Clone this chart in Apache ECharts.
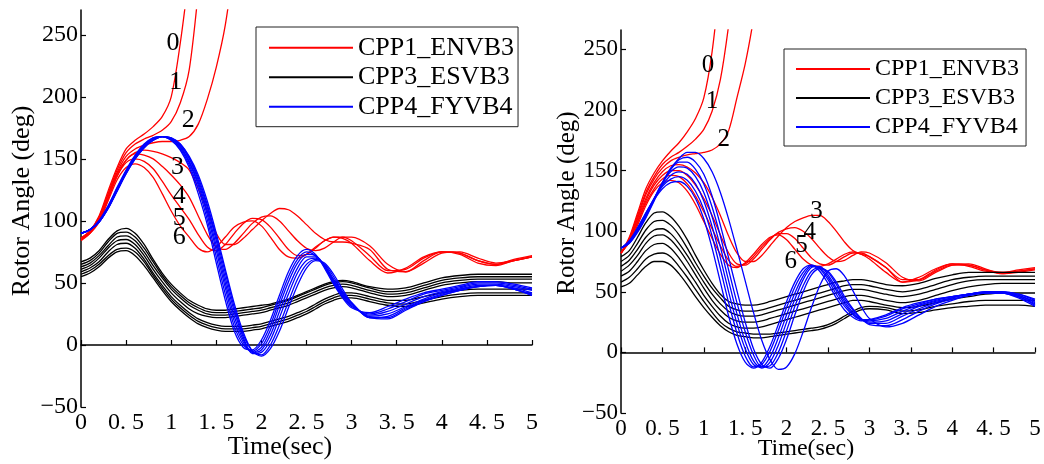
<!DOCTYPE html>
<html><head><meta charset="utf-8">
<script src="https://cdn.jsdelivr.net/npm/echarts@6/dist/echarts.min.js"></script>
<style>html,body{margin:0;padding:0;background:#fff}#c{width:1044px;height:464px}</style>
</head><body><div id="c"></div>
<script>
// time grid (s)
const T = [0,0.1,0.2,0.3,0.4,0.5,0.6,0.7,0.8,0.9,1.0,1.1,1.2,1.3,1.4,1.5,1.6,1.7,1.8,1.9,2.0,2.1,2.2,2.3,2.4,2.5,2.6,2.7,2.8,2.9,3.0,3.2,3.4,3.6,3.8,4.0,4.2,4.4,4.6,4.8,5.0];
const xTicks = [0,0.5,1,1.5,2,2.5,3,3.5,4,4.5,5];
const yTicks = [-50,0,50,100,150,200,250];
const names = ['CPP1_ENVB3','CPP3_ESVB3','CPP4_FYVB4'];

// LEFT panel — CPP1_ENVB3 (red), cases 0..6
const L_red0 = [86,92,104,124,143,158,165,170,176,184,200,243,300];
const L_red1 = [86,92,103,122,141,155,162,166,169,173,180,195,222,285];
const L_red2 = [86,92,103,121,139,152,158,161,163,164,164,165,168,178,198,224,258,310];
const L_red3 = [86,91,101,118,136,149,155,157,156,154,151,147,141,126,108,90,81,81,86,93,100,106,110,109,104,97,90,85,83,83,82,77,61,59,68,75,74,68,65,69,72];
const L_red4 = [85,91,101,119,138,149,154,153,150,144,137,129,119,104,89,79,77,82,90,98,103,104,100,92,84,78,76,78,83,87,87,80,65,59,66,74,75,70,66,68,71];
const L_red5 = [85,90,100,118,136,147,150,148,142,132,121,111,101,89,79,76,81,90,98,102,101,95,86,77,72,73,78,84,87,87,84,72,60,61,70,75,74,68,65,68,71];
const L_red6 = [84,90,99,116,133,143,146,143,135,122,108,96,87,78,75,79,87,95,99,100,96,87,77,71,70,73,79,84,87,86,82,68,58,62,71,75,73,66,64,68,71];
// LEFT — CPP3_ESVB3 (black)
const L_blk1 = [67,70,76,85,92,94,90,81,69,58,49,42,36,32,29,28,28,29,30,31,32,33,35,37,40,43,46,49,51,52,51,47,45,46,50,54,56,57,57,57,57];
const L_blk2 = [65,68,74,83,90,91,87,78,67,56,47,40,34,30,27,26,26,27,28,29,30,32,34,36,39,42,45,48,50,51,50,46,43,44,48,52,54,55,55,55,55];
const L_blk3 = [63,66,72,80,87,88,84,75,64,54,45,38,32,28,25,24,24,25,26,27,28,30,32,34,37,40,43,46,48,49,48,44,41,42,46,50,52,53,53,53,53];
const L_blk4 = [61,64,70,78,84,85,81,72,61,51,42,35,29,25,23,22,22,23,24,25,26,28,30,32,35,38,41,44,46,47,46,42,39,40,44,48,50,51,51,50,50];
const L_blk5 = [59,62,67,75,81,82,78,69,58,48,39,32,26,21,18,16,15,15,15,16,17,19,21,23,26,29,33,37,40,42,42,39,36,36,39,42,44,45,45,45,45];
const L_blk6 = [57,60,65,72,77,78,75,67,56,46,37,30,24,19,16,14,13,13,13,14,15,17,19,21,24,27,31,35,38,40,40,37,34,33,36,39,41,42,42,42,42];
const L_blk7 = [55,58,63,70,75,76,72,64,54,44,35,28,22,17,14,12,11,11,11,12,13,15,17,19,22,25,29,33,36,38,38,35,32,31,34,37,39,40,40,40,40];
// LEFT — CPP4_FYVB4 (blue)
const L_blu1 = [90,93,100,112,127,141,153,162,167,168,165,157,143,122,97,66,36,11,-2,-4,4,20,40,59,72,77,73,62,49,38,30,26,31,37,42,45,48,51,51,49,46];
const L_blu2 = [90,93,100,112,126,140,152,161,167,168,165,158,145,126,101,71,41,15,0,-5,1,16,36,55,69,75,72,63,50,39,31,25,29,35,41,44,47,50,50,48,45];
const L_blu3 = [90,93,100,111,126,140,152,161,166,168,166,159,147,129,105,76,46,19,2,-6,-2,12,32,51,66,73,72,64,51,40,32,24,27,33,39,43,46,49,49,47,44];
const L_blu4 = [90,93,99,111,125,139,151,160,166,168,166,160,148,131,108,80,50,23,4,-6,-4,8,27,46,62,71,71,64,52,41,33,23,25,31,37,42,45,48,48,46,42];
const L_blu5 = [90,93,99,110,125,139,151,160,165,168,166,161,150,133,111,84,54,27,6,-7,-6,4,22,41,58,68,70,64,53,42,34,22,23,30,36,41,45,47,48,45,41];
const L_blu6 = [90,93,99,110,124,138,150,159,165,168,167,162,151,135,113,87,58,30,8,-5,-8,0,16,35,53,65,69,65,55,43,34,22,22,29,35,40,44,47,48,45,40];
const L_blu7 = [90,93,99,110,124,138,150,159,165,168,167,162,152,137,116,90,61,33,10,-5,-9,-3,11,30,48,62,68,66,57,45,34,22,21,28,35,40,44,47,48,45,40];
// LEFT case labels
const L_lab = ['0','1','2','3','4','5','6'];
const L_labT = [1.02,1.05,1.19,1.07,1.09,1.09,1.09];
const L_labV = [243,212,181,143,120,102,87];

// RIGHT panel — red
const R_red0 = [82,95,115,135,148,158,166,173,182,193,210,248,310];
const R_red1 = [82,94,113,132,145,155,161,165,170,176,184,199,225,270,330];
const R_red2 = [82,93,111,130,143,152,158,161,163,164,165,167,172,183,210,238,275,320];
const R_red3 = [82,93,110,127,140,149,154,155,153,148,140,128,113,96,82,75,75,80,88,96,103,108,111,113,113,108,100,91,84,81,79,70,58,60,68,73,72,68,65,67,69];
const R_red4 = [82,92,108,125,138,146,150,150,146,138,127,113,97,82,73,72,77,85,93,99,102,103,100,94,86,79,75,76,80,83,82,74,62,59,66,72,73,69,65,66,68];
const R_red5 = [82,92,107,123,135,143,146,145,139,129,116,102,88,76,71,73,79,87,94,98,98,94,86,78,73,72,75,79,82,82,79,70,60,60,67,72,72,68,66,67,69];
const R_red6 = [82,91,105,121,133,140,142,140,133,122,108,94,81,72,70,74,81,89,95,97,93,85,77,72,71,73,77,81,83,81,77,66,58,62,69,73,71,67,66,68,70];
// RIGHT — black
const R_blk1 = [79,84,95,107,115,116,112,104,93,80,68,57,48,42,40,39,39,40,42,44,46,48,50,52,54,56,58,59,60,60,59,56,55,57,61,64,66,66,66,66,66];
const R_blk2 = [75,80,90,101,108,109,105,97,86,74,63,53,45,38,35,34,34,35,37,39,41,43,45,47,49,51,53,55,56,56,55,52,50,52,56,60,62,63,63,63,63];
const R_blk3 = [71,76,85,95,101,102,98,90,80,69,58,48,40,34,31,30,30,31,33,35,37,39,41,43,45,47,49,51,52,52,51,48,46,48,52,56,59,60,60,60,60];
const R_blk4 = [67,72,80,90,96,97,93,85,75,64,53,43,35,29,26,25,25,26,28,30,32,34,36,38,40,42,44,46,47,47,46,43,41,43,47,51,54,56,57,57,57];
const R_blk5 = [63,67,75,84,89,90,86,78,68,58,47,38,30,24,21,20,20,21,23,25,27,29,31,33,35,37,39,41,43,43,42,39,37,38,41,44,46,48,49,49,49];
const R_blk6 = [58,62,69,77,81,82,79,71,62,52,42,33,25,20,17,16,15,15,15,16,17,18,19,20,21,23,26,30,34,37,38,37,34,35,38,40,42,43,43,43,43];
const R_blk7 = [54,57,64,71,75,75,72,65,56,46,37,29,22,17,14,13,12,12,13,14,15,16,17,18,19,21,24,28,32,35,36,35,32,33,35,37,38,39,39,39,38];
// RIGHT — blue
const R_blu1 = [86,92,103,115,126,135,140,141,137,127,110,86,58,30,7,-8,-13,-8,5,23,42,58,69,72,67,57,45,35,29,26,27,31,37,41,44,46,48,50,50,48,44];
const R_blu2 = [86,92,102,115,127,137,143,145,142,133,118,96,69,41,16,-3,-12,-10,1,18,37,54,66,72,69,60,48,38,31,27,27,30,36,40,44,46,48,50,50,48,43];
const R_blu3 = [86,91,101,114,127,138,146,149,147,139,125,104,78,50,24,3,-10,-12,-4,12,31,49,63,71,70,62,51,40,32,27,26,28,34,39,43,46,48,50,50,47,42];
const R_blu4 = [86,91,101,113,127,140,149,153,152,145,132,112,87,59,32,9,-7,-13,-8,6,25,44,60,70,71,64,53,42,33,27,25,26,32,38,42,45,48,50,50,47,41];
const R_blu5 = [86,91,100,112,126,140,151,157,157,151,139,120,96,68,41,17,-2,-12,-11,0,18,38,55,67,70,66,56,44,35,28,24,24,30,36,41,45,48,49,49,46,40];
const R_blu6 = [86,90,100,112,126,140,152,159,161,157,147,129,105,78,51,25,3,-10,-13,-5,11,31,50,64,69,67,58,46,36,28,23,22,27,34,40,44,47,49,49,46,39];
const R_blu7 = [86,90,99,111,125,139,151,160,165,165,160,149,132,110,85,59,33,10,-6,-14,-12,-1,17,37,55,67,69,63,51,38,28,21,24,31,38,43,47,49,49,45,38];
// RIGHT case labels
const R_lab = ['0','1','2','3','4','5','6'];
const R_labT = [1.05,1.1,1.24,2.36,2.28,2.18,2.05];
const R_labV = [237,207,176,116,99,88,75];

const FONT = '"Liberation Serif", "Times New Roman", serif';
const COLORS = ['#ff0000','#000000','#0000ff'];

function pts(vals){ return vals.map((v,i)=>[T[i], v]); }

const groups = [
  [[L_red0,L_red1,L_red2,L_red3,L_red4,L_red5,L_red6],[L_blk1,L_blk2,L_blk3,L_blk4,L_blk5,L_blk6,L_blk7],[L_blu1,L_blu2,L_blu3,L_blu4,L_blu5,L_blu6,L_blu7]],
  [[R_red0,R_red1,R_red2,R_red3,R_red4,R_red5,R_red6],[R_blk1,R_blk2,R_blk3,R_blk4,R_blk5,R_blk6,R_blk7],[R_blu1,R_blu2,R_blu3,R_blu4,R_blu5,R_blu6,R_blu7]]
];

const series = [];
groups.forEach((panel, p) => {
  panel.forEach((fam, f) => {
    fam.forEach(vals => {
      series.push({
        type:'line', name:names[f], xAxisIndex:p, yAxisIndex:p,
        data:pts(vals), symbol:'none', showSymbol:false, smooth:0.3,
        lineStyle:{color:COLORS[f], width:1.3}, itemStyle:{color:COLORS[f]},
        silent:true, z:2+f
      });
    });
  });
});
[[L_lab,L_labT,L_labV,26],[R_lab,R_labT,R_labV,25]].forEach((a,p)=>{
  series.push({
    type:'scatter', name:'labels'+p, xAxisIndex:p, yAxisIndex:p, silent:true, z:10,
    symbolSize:1, itemStyle:{color:'rgba(0,0,0,0)', opacity:1},
    data:a[0].map((s,i)=>({name:s, value:[a[1][i], a[2][i]]})),
    label:{show:true, position:'inside', formatter:'{b}', color:'#000', opacity:1, fontFamily:FONT, fontSize:a[3]}
  });
});

function xAx(i, fs){
  return {type:'value', gridIndex:i, min:0, max:5, interval:0.5,
    axisLine:{lineStyle:{color:'#000', width:1.5}},
    axisTick:{inside:true, length:5, lineStyle:{color:'#000', width:1.2}},
    axisLabel:{color:'#000', fontFamily:FONT, fontSize:fs, margin:4,
      formatter:v=>Number.isInteger(v)? String(v) : String(v).replace('.', '. ')},
    splitLine:{show:false}};
}
function yAx(i, max, fs){
  return {type:'value', gridIndex:i, min:-50, max:max, interval:50,
    axisLine:{show:true, lineStyle:{color:'#000', width:1.5}},
    axisTick:{show:true, inside:true, length:5, customValues:yTicks, lineStyle:{color:'#000', width:1.2}},
    axisLabel:{color:'#000', fontFamily:FONT, fontSize:fs, margin:3, customValues:yTicks,
      formatter:v=> v<0 ? '\u2212'+(-v) : (v%50===0 ? String(v) : '')},
    splitLine:{show:false}};
}

const chart = echarts.init(document.getElementById('c'), null, {renderer:'canvas'});
chart.setOption({
  animation:false,
  backgroundColor:'#fff',
  grid:[
    {left:81, right:512, top:10, bottom:57},
    {left:621, right:9, top:30, bottom:51}
  ],
  xAxis:[xAx(0,24), xAx(1,23)],
  yAxis:[yAx(0,270,24), yAx(1,266,23)],
  legend:[
    {data:names, orient:'vertical', left:256, top:27, icon:'rect', itemWidth:84, itemHeight:2, itemGap:3.5,
     padding:[7.7,4,7,13], borderColor:'#222', borderWidth:1, selectedMode:false,
     textStyle:{fontFamily:FONT, fontSize:26, lineHeight:26, color:'#000'}},
    {data:names, orient:'vertical', left:784, top:49, icon:'rect', itemWidth:74, itemHeight:2, itemGap:5,
     padding:[8,7,7,12], borderColor:'#222', borderWidth:1, selectedMode:false,
     textStyle:{fontFamily:FONT, fontSize:24, lineHeight:24, color:'#000'}}
  ],
  graphic:[
    {type:'text', x:22, y:201, rotation:Math.PI/2, style:{text:'Rotor Angle (deg)', font:'26px "Liberation Serif"', fill:'#000', align:'center', verticalAlign:'middle'}},
    {type:'text', x:567, y:203, rotation:Math.PI/2, style:{text:'Rotor Angle (deg)', font:'25px "Liberation Serif"', fill:'#000', align:'center', verticalAlign:'middle'}},
    {type:'text', x:280, y:447, style:{text:'Time(sec)', font:'26px "Liberation Serif"', fill:'#000', align:'center', verticalAlign:'middle'}},
    {type:'text', x:806, y:449, style:{text:'Time(sec)', font:'24px "Liberation Serif"', fill:'#000', align:'center', verticalAlign:'middle'}}
  ],
  series:series
});
</script></body></html>
